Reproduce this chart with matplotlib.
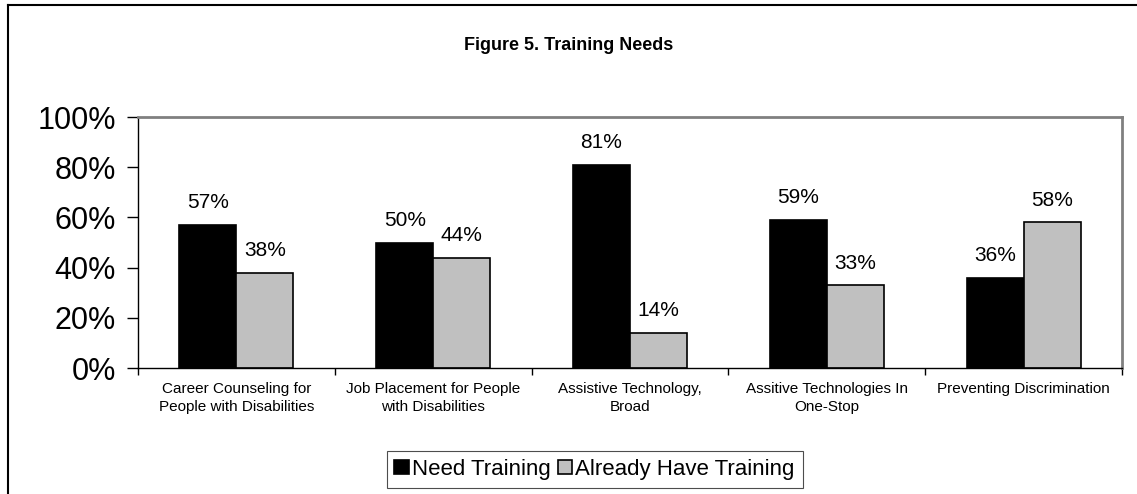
import matplotlib.pyplot as plt
import numpy as np
from matplotlib.lines import Line2D

plt.rcParams['font.family'] = ['Liberation Sans', 'DejaVu Sans']

categories = ['Career Counseling for\nPeople with Disabilities',
              'Job Placement for People\nwith Disabilities',
              'Assistive Technology,\nBroad',
              'Assitive Technologies In\nOne-Stop',
              'Preventing Discrimination']
need_training = [57, 50, 81, 59, 36]
already_have = [38, 44, 14, 33, 58]
series_names = ['Need Training', 'Already Have Training']
y_ticks = [0, 20, 40, 60, 80, 100]


def draw(fig, ax):
    x = np.arange(len(categories))
    w = 0.29
    b1 = ax.bar(x - w / 2, need_training, w, color='black', edgecolor='black',
                linewidth=1.2, label=series_names[0])
    b2 = ax.bar(x + w / 2, already_have, w, color='#C0C0C0', edgecolor='black',
                linewidth=1.2, label=series_names[1])
    for bars in (b1, b2):
        ax.bar_label(bars, labels=[f'{v:.0f}%' for v in bars.datavalues],
                     padding=9, fontsize=15)

    ax.set_xlim(-0.5, len(categories) - 0.5)
    ax.set_ylim(0, 100)
    ax.set_yticks(y_ticks)
    ax.set_yticklabels([f'{t}%' for t in y_ticks], fontsize=22)
    ax.tick_params(axis='y', length=8, width=1, pad=8)

    ax.set_xticks(x)
    ax.set_xticklabels(categories, fontsize=11, linespacing=1.35)
    ax.tick_params(axis='x', which='major', length=0, pad=10)
    ax.set_xticks(np.arange(len(categories) + 1) - 0.5, minor=True)
    ax.tick_params(axis='x', which='minor', length=5, width=1)

    for side in ('top', 'right'):
        ax.spines[side].set_color('#808080')
        ax.spines[side].set_linewidth(2)
    for side in ('left', 'bottom'):
        ax.spines[side].set_color('black')
        ax.spines[side].set_linewidth(1)

    fig.text(0.5, 0.908, 'Figure 5. Training Needs', ha='center', va='center',
             fontsize=13, fontweight='bold')

    leg = fig.legend(handles=[b1, b2], loc='center', bbox_to_anchor=(0.523, 0.05),
                     ncol=2, fontsize=16, frameon=True, fancybox=False,
                     handlelength=0.65, handleheight=0.65, handletextpad=0.15,
                     columnspacing=0.3, borderpad=0.35, borderaxespad=0)
    leg.get_frame().set_edgecolor('#202020')
    leg.get_frame().set_linewidth(0.8)

    # outer chart border (top and left visible)
    fig.add_artist(Line2D([8 / 1137, 1.0], [1 - 5 / 494] * 2, color='black', lw=1.5))
    fig.add_artist(Line2D([8 / 1137] * 2, [0, 1 - 5 / 494], color='black', lw=1.5))


def main():
    fig = plt.figure(figsize=(11.37, 4.94), dpi=100)
    ax = fig.add_axes([138 / 1137, 126 / 494, (1122 - 138) / 1137, (368 - 117) / 494])
    draw(fig, ax)
    fig.savefig('out.png', dpi=100)


if __name__ == '__main__':
    main()
